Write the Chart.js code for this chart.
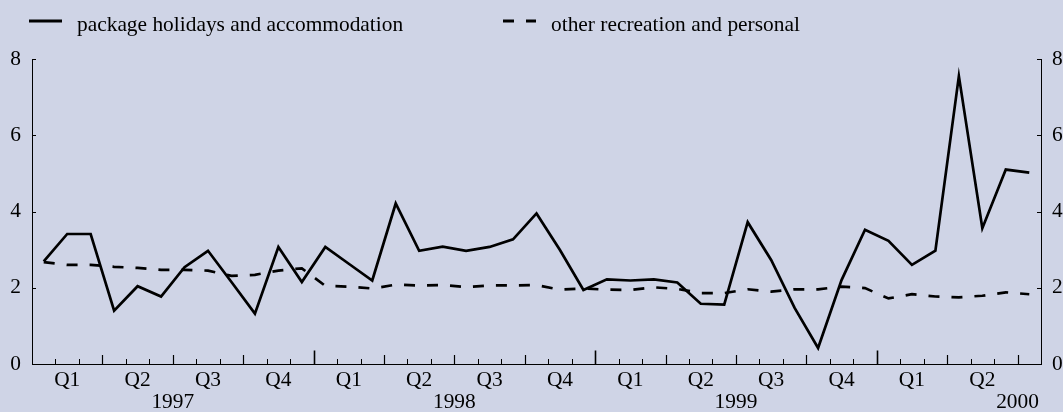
<!DOCTYPE html>
<html>
<head>
<meta charset="utf-8">
<script src="https://cdn.jsdelivr.net/npm/chart.js@4.4.0/dist/chart.umd.min.js"></script>
<style>
html, body { margin: 0; padding: 0; background: #CFD4E6; }
#wrap { position: relative; width: 1063px; height: 412px; background: #CFD4E6; }
canvas { display: block; }
</style>
</head>
<body>
<div id="wrap"><canvas id="c" width="1063" height="412"></canvas></div>
<script>
// ---- data ----
const categories = [
  '1997-01','1997-02','1997-03','1997-04','1997-05','1997-06','1997-07','1997-08','1997-09','1997-10','1997-11','1997-12',
  '1998-01','1998-02','1998-03','1998-04','1998-05','1998-06','1998-07','1998-08','1998-09','1998-10','1998-11','1998-12',
  '1999-01','1999-02','1999-03','1999-04','1999-05','1999-06','1999-07','1999-08','1999-09','1999-10','1999-11','1999-12',
  '2000-01','2000-02','2000-03','2000-04','2000-05','2000-06','2000-07'
];
const packageHolidays = [
  2.69, 3.41, 3.41, 1.40, 2.04, 1.77, 2.54, 2.97, 2.15, 1.32, 3.07, 2.15,
  3.07, 2.63, 2.19, 4.21, 2.97, 3.08, 2.97, 3.07, 3.27, 3.95, 2.99, 1.94,
  2.22, 2.19, 2.22, 2.14, 1.58, 1.56, 3.72, 2.73, 1.47, 0.42, 2.20, 3.52,
  3.23, 2.60, 2.97, 7.55, 3.56, 5.10, 5.02
];
const otherRecreation = [
  2.67, 2.60, 2.60, 2.55, 2.52, 2.47, 2.47, 2.45, 2.31, 2.34, 2.45, 2.51,
  2.05, 2.03, 1.98, 2.08, 2.06, 2.07, 2.02, 2.06, 2.06, 2.07, 1.95, 1.98,
  1.95, 1.94, 2.01, 1.97, 1.86, 1.86, 1.96, 1.90, 1.96, 1.96, 2.03, 1.99,
  1.72, 1.83, 1.77, 1.75, 1.79, 1.88, 1.83
];
const seriesNames = ['package holidays and accommodation', 'other recreation and personal'];
const quarterLabels = ['Q1', 'Q2', 'Q3', 'Q4'];
const yearLabels = ['1997', '1998', '1999', '2000'];
const yMin = 0, yMax = 8, yStep = 2;

// ---- styling ----
const FONT = '"Liberation Serif", "Times New Roman", Times, serif';
const FONT_SIZE = 21.4;
const INK = '#000000';

// custom legend, tick marks and year labels
const decorPlugin = {
  id: 'decor',
  afterDraw(chart) {
    const ctx = chart.ctx;
    const ca = chart.chartArea;
    const xs = chart.scales.x;
    ctx.save();
    // inward x tick marks at month boundaries
    ctx.strokeStyle = INK;
    for (let k = 1; k < categories.length; k++) {
      const px = (xs.getPixelForValue(k - 1) + xs.getPixelForValue(k)) / 2;
      let len = 5, w = 1;
      if (k % 12 === 0) { len = 13.5; w = 1.6; }
      else if (k % 3 === 0) { len = 9; w = 1.2; }
      ctx.lineWidth = w;
      ctx.beginPath();
      ctx.moveTo(Math.round(px) + 0.5, ca.bottom);
      ctx.lineTo(Math.round(px) + 0.5, ca.bottom - len);
      ctx.stroke();
    }
    // inward y tick marks on both axes
    ctx.lineWidth = 1;
    ['y', 'y2'].forEach(id => {
      const sc = chart.scales[id];
      sc.ticks.forEach(t => {
        const py = Math.round(sc.getPixelForValue(t.value)) + 0.5;
        ctx.beginPath();
        if (id === 'y') { ctx.moveTo(ca.left, py); ctx.lineTo(ca.left + 4, py); }
        else { ctx.moveTo(ca.right, py); ctx.lineTo(ca.right - 4, py); }
        ctx.stroke();
      });
    });
    // year labels centred on mid-year
    ctx.fillStyle = INK;
    ctx.font = FONT_SIZE + 'px ' + FONT;
    ctx.textAlign = 'center';
    ctx.textBaseline = 'middle';
    yearLabels.forEach((yl, j) => {
      const a = j * 12 + 5, b = j * 12 + 6;
      const px = (xs.getPixelForValue(a) + xs.getPixelForValue(b)) / 2;
      ctx.fillText(yl, px, ca.bottom + 38.5);
    });
    // legend
    const legendX = [29, 503];
    const sampleLen = 33;
    ctx.textAlign = 'left';
    ctx.textBaseline = 'alphabetic';
    chart.data.datasets.forEach((ds, i) => {
      const x0 = legendX[i];
      ctx.strokeStyle = ds.borderColor;
      ctx.lineWidth = 3;
      ctx.setLineDash(ds.borderDash || []);
      ctx.lineDashOffset = 0;
      ctx.beginPath();
      ctx.moveTo(x0, 21);
      ctx.lineTo(x0 + sampleLen, 21);
      ctx.stroke();
      ctx.setLineDash([]);
      ctx.fillText(ds.label, x0 + sampleLen + 15, 30.5);
    });
    ctx.restore();
  }
};

const yAxisCommon = {
  min: yMin, max: yMax,
  grid: { display: false, drawTicks: false },
  border: { display: true, color: INK, width: 1 },
  ticks: { stepSize: yStep, padding: 11, color: INK, font: { family: FONT, size: FONT_SIZE } }
};

new Chart(document.getElementById('c'), {
  type: 'line',
  data: {
    labels: categories,
    datasets: [
      {
        label: seriesNames[0],
        data: packageHolidays,
        borderColor: INK,
        borderWidth: 2.7,
        pointRadius: 0,
        tension: 0,
        fill: false,
        yAxisID: 'y'
      },
      {
        label: seriesNames[1],
        data: otherRecreation,
        borderColor: INK,
        borderWidth: 2.7,
        borderDash: [11, 12],
        pointRadius: 0,
        tension: 0,
        fill: false,
        yAxisID: 'y'
      }
    ]
  },
  options: {
    responsive: false,
    animation: false,
    devicePixelRatio: 1,
    layout: { padding: { top: 59, left: 0, right: 0, bottom: 0 } },
    plugins: { legend: { display: false }, tooltip: { enabled: false }, title: { display: false } },
    scales: {
      x: {
        type: 'category',
        offset: true,
        grid: { display: false, drawTicks: false, offset: true },
        border: { display: true, color: INK, width: 1 },
        ticks: {
          autoSkip: false, maxRotation: 0, minRotation: 0, padding: 3.5,
          color: INK, font: { family: FONT, size: FONT_SIZE },
          callback: (v, i) => (i % 3 === 1 ? quarterLabels[Math.floor((i % 12) / 3)] : '')
        },
        afterFit: s => { s.height = 48; }
      },
      y: Object.assign({ position: 'left', afterFit: s => { s.width = 32; } }, yAxisCommon),
      y2: Object.assign({ position: 'right', afterFit: s => { s.width = 22; } }, yAxisCommon)
    }
  },
  plugins: [decorPlugin]
});
</script>
</body>
</html>
